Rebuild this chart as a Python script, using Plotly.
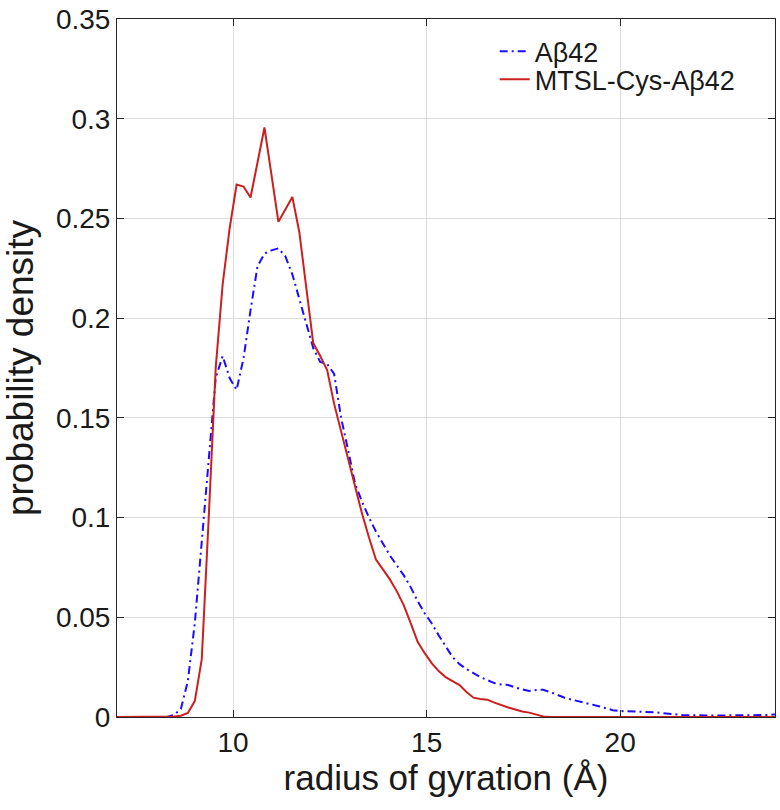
import plotly.graph_objects as go

rg = [6.85, 7.03, 7.21, 7.39, 7.57, 7.75, 7.93, 8.11, 8.29, 8.47, 8.65, 8.83, 9.01, 9.19, 9.37, 9.55,
      9.73, 9.91, 10.09, 10.27, 10.45, 10.63, 10.81, 10.99, 11.17, 11.35, 11.53, 11.71, 11.89, 12.07,
      12.25, 12.43, 12.61, 12.79, 12.97, 13.15, 13.33, 13.51, 13.69, 13.87, 14.05, 14.23, 14.41, 14.59,
      14.77, 14.95, 15.13, 15.31, 15.49, 15.67, 15.85, 16.03, 16.21, 16.39, 16.57, 16.75, 16.93, 17.11,
      17.29, 17.47, 17.65, 17.83, 18.01, 18.19, 18.37, 18.55, 18.73, 18.91, 19.09, 19.27, 19.45, 19.63,
      19.81, 19.99, 20.17, 20.35, 20.53, 20.71, 20.89, 21.07, 21.25, 21.43, 21.61, 21.79, 21.97, 22.15,
      22.33, 22.51, 22.69, 22.87, 23.05, 23.23, 23.41, 23.59, 23.77, 23.95, 24.13]

abeta42 = [0, 0, 0, 0, 0, 0, 0, 0, 0, 0.001, 0.004, 0.018, 0.047, 0.088, 0.131, 0.170,
           0.181, 0.170, 0.164, 0.180, 0.204, 0.226, 0.2324, 0.234, 0.235, 0.231, 0.222, 0.210, 0.197, 0.185,
           0.178, 0.177, 0.172, 0.150, 0.134, 0.117, 0.108, 0.100, 0.093, 0.087, 0.081, 0.076, 0.071, 0.065,
           0.058, 0.052, 0.047, 0.041, 0.0355, 0.030, 0.0265, 0.024, 0.022, 0.020, 0.0185, 0.017, 0.0163, 0.016,
           0.0148, 0.0138, 0.013, 0.0135, 0.0137, 0.0125, 0.011, 0.0098, 0.0088, 0.008, 0.007, 0.0062, 0.0054, 0.0044,
           0.0034, 0.003, 0.0029, 0.0029, 0.0027, 0.0026, 0.0024, 0.002, 0.0016, 0.0013, 0.001, 0.0009, 0.0008, 0.0007,
           0.0007, 0.0007, 0.0008, 0.0008, 0.0009, 0.0009, 0.0009, 0.001, 0.001, 0.0012, 0.0014]

mtsl = [0, 0, 0, 0, 0, 0, 0, 0, 0, 0.0002, 0.0006, 0.002, 0.008, 0.029, 0.100, 0.175,
        0.217, 0.245, 0.267, 0.266, 0.2605, 0.278, 0.2956, 0.272, 0.2483, 0.2545, 0.2608, 0.2432, 0.215, 0.1875,
        0.181, 0.174, 0.157, 0.143, 0.129, 0.115, 0.102, 0.090, 0.079, 0.074, 0.069, 0.063, 0.056, 0.047,
        0.0376, 0.032, 0.027, 0.023, 0.020, 0.018, 0.016, 0.0125, 0.0097, 0.009, 0.0087, 0.0072, 0.0058, 0.0048,
        0.0038, 0.0028, 0.0022, 0.0012, 0.0003, 0, 0, 0, 0, 0, 0, 0, 0, 0,
        0, 0, 0, 0, 0, 0, 0, 0, 0, 0, 0, 0, 0, 0,
        0, 0, 0, 0, 0, 0, 0, 0, 0, 0, 0]

names = ["A\u03b242", "MTSL-Cys-A\u03b242"]
x_ticks = [10, 15, 20]
y_ticks = [0, 0.05, 0.1, 0.15, 0.2, 0.25, 0.3, 0.35]
y_ticklabels = ["0", "0.05", "0.1", "0.15", "0.2", "0.25", "0.3", "0.35"]

fig = go.Figure()
fig.add_trace(go.Scatter(x=rg, y=abeta42, mode="lines", name=names[0], legend="legend",
                         line=dict(color="#1a0dff", width=2, dash="8px,4px,2px,4px")))
fig.add_trace(go.Scatter(x=rg, y=mtsl, mode="lines", name=names[1], legend="legend2",
                         line=dict(color="#cc1f1f", width=2)))

axis_common = dict(showline=True, linecolor="#262626", linewidth=1, mirror="ticks",
                   ticks="inside", ticklen=7, tickcolor="#262626",
                   showgrid=True, gridcolor="#dcdcdc", gridwidth=1, zeroline=False,
                   automargin=False,
                   tickfont=dict(size=28, color="#1a1a1a"))

fig.update_xaxes(range=[7, 24], tickvals=x_ticks,
                 title=dict(text="radius of gyration (\u00c5)", font=dict(size=35, color="#1a1a1a"), standoff=2),
                 **axis_common)
fig.update_yaxes(range=[0, 0.35], tickvals=y_ticks, ticktext=y_ticklabels,
                 title=dict(text="probability density", font=dict(size=37, color="#1a1a1a"), standoff=11),
                 **axis_common)

leg_common = dict(xanchor="left", yanchor="middle", bgcolor="rgba(0,0,0,0)", borderwidth=0,
                  font=dict(size=27, color="#1a1a1a"), itemwidth=30)

fig.update_layout(
    width=780, height=810,
    margin=dict(l=117, r=5, t=19, b=93),
    paper_bgcolor="white", plot_bgcolor="white",
    font=dict(family="Liberation Sans, Arial, sans-serif", color="#1a1a1a"),
    showlegend=True,
    legend=dict(x=0.574, y=0.953, **leg_common),
    legend2=dict(x=0.574, y=0.913, **leg_common),
)

fig.write_html("out.html", config={"displayModeBar": False},
               post_script="document.body.style.margin='0';document.body.style.overflow='hidden';")
